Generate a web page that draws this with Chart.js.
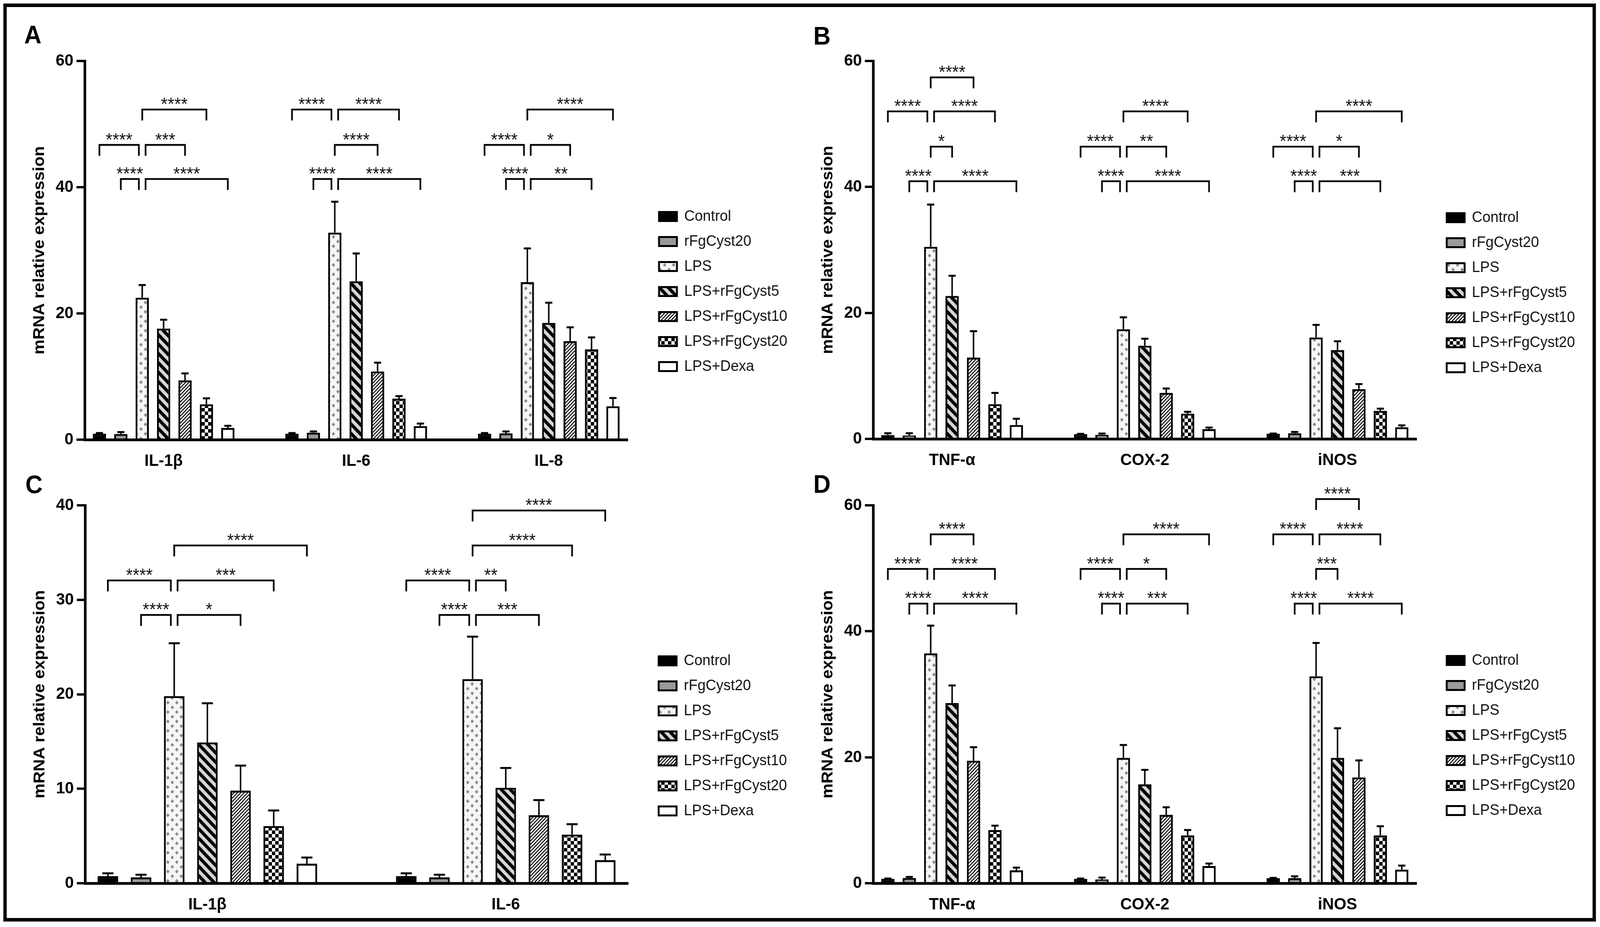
<!DOCTYPE html>
<html>
<head>
<meta charset="utf-8">
<script src="https://cdn.jsdelivr.net/npm/chart.js@4.4.1/dist/chart.umd.min.js"></script>
<style>
html, body { margin: 0; padding: 0; background: #fff; overflow: hidden; }
#page { width: 4290px; height: 2372px; position: absolute; left: 0; top: 0; transform-origin: 0 0; background: #fff; }
#frame { position: absolute; left: 9px; top: 9px; width: 4270px; height: 2349px; box-sizing: border-box; border: 9px solid #000; }
canvas { position: absolute; }
.tag { position: absolute; font: bold 64px/1 "Liberation Sans", Arial, sans-serif; color: #000; }
</style>
</head>
<body>
<div id="page">
<div id="frame"></div>
<canvas id="cA" width="2150" height="1230" style="left:0px;top:0px"></canvas>
<canvas id="cB" width="2140" height="1230" style="left:2150px;top:0px"></canvas>
<canvas id="cC" width="2150" height="1192" style="left:0px;top:1180px"></canvas>
<canvas id="cD" width="2140" height="1192" style="left:2150px;top:1180px"></canvas>
<div class="tag" style="left:65px;top:57px">A</div>
<div class="tag" style="left:2181px;top:60px">B</div>
<div class="tag" style="left:68px;top:1208px">C</div>
<div class="tag" style="left:2181px;top:1207px">D</div>
</div>
<script>
// --- 0. FIT PAGE TO WINDOW (window may be narrower than the 4290px figure) ---
const PAGE_W = 4290, PAGE_H = 2372;
document.getElementById('page').style.transform =
    'scale(' + Math.min(1, window.innerWidth / PAGE_W) + ',' + Math.min(1, window.innerHeight / PAGE_H) + ')';

// --- 1. DATA ---
const GROUPS = ['Control', 'rFgCyst20', 'LPS', 'LPS+rFgCyst5', 'LPS+rFgCyst10', 'LPS+rFgCyst20', 'LPS+Dexa'];
const Y_TITLE = 'mRNA relative expression';

// panel A
const A_GENES = ['IL-1β', 'IL-6', 'IL-8'];
const A_MEAN = [
    [0.95, 0.9, 22.5, 17.6, 9.4, 5.6, 1.85],
    [0.95, 1.1, 32.8, 25.1, 10.8, 6.5, 2.15],
    [0.95, 1.0, 24.95, 18.5, 15.6, 14.3, 5.3]
];
const A_SD = [
    [0.1, 0.3, 2.0, 1.4, 1.1, 0.95, 0.35],
    [0.1, 0.2, 4.9, 4.4, 1.4, 0.4, 0.4],
    [0.1, 0.3, 5.35, 3.2, 2.2, 1.9, 1.3]
];
// [gene, from group, to group, height, stars]
const A_SIG = [
    [0, 2, 5, 52.3, '****'], [0, 0, 2, 46.7, '****'], [0, 2, 4, 46.7, '***'], [0, 1, 2, 41.3, '****'], [0, 2, 6, 41.3, '****'],
    [1, 0, 2, 52.3, '****'], [1, 2, 5, 52.3, '****'], [1, 2, 4, 46.7, '****'], [1, 1, 2, 41.3, '****'], [1, 2, 6, 41.3, '****'],
    [2, 2, 6, 52.3, '****'], [2, 0, 2, 46.7, '****'], [2, 2, 4, 46.7, '*'], [2, 1, 2, 41.3, '****'], [2, 2, 5, 41.3, '**']
];

// panel B
const B_GENES = ['TNF-α', 'COX-2', 'iNOS'];
const B_MEAN = [
    [0.6, 0.55, 30.5, 22.7, 12.9, 5.5, 2.2],
    [0.75, 0.65, 17.4, 14.8, 7.3, 4.0, 1.55],
    [0.8, 0.9, 16.1, 14.1, 7.9, 4.45, 1.85]
];
const B_SD = [
    [0.3, 0.35, 6.7, 3.2, 4.2, 1.8, 1.0],
    [0.05, 0.2, 1.9, 1.1, 0.7, 0.3, 0.25],
    [0.05, 0.2, 2.0, 1.4, 0.8, 0.35, 0.3]
];
const B_SIG = [
    [0, 2, 4, 57.4, '****'], [0, 0, 2, 52.0, '****'], [0, 2, 5, 52.0, '****'], [0, 2, 3, 46.4, '*'], [0, 1, 2, 40.9, '****'], [0, 2, 6, 40.9, '****'],
    [1, 2, 5, 52.0, '****'], [1, 0, 2, 46.4, '****'], [1, 2, 4, 46.4, '**'], [1, 1, 2, 40.9, '****'], [1, 2, 6, 40.9, '****'],
    [2, 2, 6, 52.0, '****'], [2, 0, 2, 46.4, '****'], [2, 2, 4, 46.4, '*'], [2, 1, 2, 40.9, '****'], [2, 2, 5, 40.9, '***']
];

// panel C
const C_GENES = ['IL-1β', 'IL-6'];
const C_MEAN = [
    [0.75, 0.62, 19.8, 14.9, 9.8, 6.05, 2.07],
    [0.75, 0.62, 21.6, 10.1, 7.2, 5.15, 2.44]
];
const C_SD = [
    [0.3, 0.28, 5.6, 4.15, 2.65, 1.65, 0.65],
    [0.3, 0.28, 4.5, 2.1, 1.6, 1.1, 0.6]
];
const C_SIG = [
    [0, 2, 6, 35.75, '****'], [0, 0, 2, 32.05, '****'], [0, 2, 5, 32.05, '***'], [0, 1, 2, 28.4, '****'], [0, 2, 4, 28.4, '*'],
    [1, 2, 6, 39.45, '****'], [1, 2, 5, 35.75, '****'], [1, 0, 2, 32.05, '****'], [1, 2, 3, 32.05, '**'], [1, 1, 2, 28.4, '****'], [1, 2, 4, 28.4, '***']
];

// panel D
const D_GENES = ['TNF-α', 'COX-2', 'iNOS'];
const D_MEAN = [
    [0.7, 0.84, 36.5, 28.6, 19.45, 8.44, 2.05],
    [0.7, 0.6, 19.9, 15.7, 10.86, 7.6, 2.73],
    [0.8, 0.8, 32.85, 19.9, 16.8, 7.6, 2.15]
];
const D_SD = [
    [0.05, 0.16, 4.4, 2.8, 2.15, 0.7, 0.43],
    [0.05, 0.3, 2.05, 2.3, 1.2, 0.85, 0.4],
    [0.05, 0.3, 5.3, 4.7, 2.7, 1.45, 0.65]
];
const D_SIG = [
    [0, 2, 4, 55.4, '****'], [0, 0, 2, 49.9, '****'], [0, 2, 5, 49.9, '****'], [0, 1, 2, 44.4, '****'], [0, 2, 6, 44.4, '****'],
    [1, 2, 6, 55.4, '****'], [1, 0, 2, 49.9, '****'], [1, 2, 4, 49.9, '*'], [1, 1, 2, 44.4, '****'], [1, 2, 5, 44.4, '***'],
    [2, 2, 4, 61.0, '****'], [2, 0, 2, 55.4, '****'], [2, 2, 5, 55.4, '****'], [2, 2, 3, 49.9, '***'], [2, 1, 2, 44.4, '****'], [2, 2, 6, 44.4, '****']
];

// --- 2. LAYOUT (figure pixels) ---
const FONT = '"Liberation Sans", Arial, sans-serif';
const YW = 170, XH = 100;
const PANELS = [
    { id: 'cA', cx: 0,    cy: 0,    genes: A_GENES, mean: A_MEAN, sd: A_SD, sig: A_SIG, yMax: 60, step: 20, L: 227,  R: 1683, T: 156,  B: 1125, legX: 1767, legY: 554 },
    { id: 'cB', cx: 2150, cy: 0,    genes: B_GENES, mean: B_MEAN, sd: B_SD, sig: B_SIG, yMax: 60, step: 20, L: 2341, R: 3798, T: 156,  B: 1123, legX: 3879, legY: 557 },
    { id: 'cC', cx: 0,    cy: 1180, genes: C_GENES, mean: C_MEAN, sd: C_SD, sig: C_SIG, yMax: 40, step: 10, L: 228,  R: 1684, T: 1293, B: 2260, legX: 1766, legY: 1691 },
    { id: 'cD', cx: 2150, cy: 1180, genes: D_GENES, mean: D_MEAN, sd: D_SD, sig: D_SIG, yMax: 60, step: 20, L: 2341, R: 3798, T: 1293, B: 2260, legX: 3879, legY: 1690 }
];

// --- 3. PATTERNS ---
function tile(w, h, paint) {
    const c = document.createElement('canvas');
    c.width = w; c.height = h;
    const g = c.getContext('2d');
    paint(g, w, h);
    return g.createPattern(c, 'repeat');
}

const FILLS = [
    '#000000',
    '#9a9a9a',
    tile(24, 24, (g, w, h) => {
        g.fillStyle = '#f6f6f6'; g.fillRect(0, 0, w, h);
        g.fillStyle = '#8a8a8a';
        [[6, 6], [18, 18]].forEach(([x, y]) => {
            g.beginPath(); g.moveTo(x, y - 5); g.lineTo(x + 4.5, y); g.lineTo(x, y + 5); g.lineTo(x - 4.5, y); g.closePath(); g.fill();
        });
    }),
    tile(24, 24, (g, w, h) => {
        g.fillStyle = '#d6d6d6'; g.fillRect(0, 0, w, h);
        g.strokeStyle = '#000'; g.lineWidth = 8.5;
        [-24, 0, 24].forEach(x0 => { g.beginPath(); g.moveTo(x0 - 6, -6); g.lineTo(x0 + 30, 30); g.stroke(); });
    }),
    tile(9, 9, (g, w, h) => {
        g.fillStyle = '#fff'; g.fillRect(0, 0, w, h);
        g.strokeStyle = '#000'; g.lineWidth = 2.6;
        [-9, 0, 9].forEach(x0 => { g.beginPath(); g.moveTo(x0 - 2, 11); g.lineTo(x0 + 11, -2); g.stroke(); });
    }),
    tile(18, 18, (g, w, h) => {
        g.fillStyle = '#fff'; g.fillRect(0, 0, w, h);
        g.fillStyle = '#000'; g.fillRect(0, 0, 9, 9); g.fillRect(9, 9, 9, 9);
    }),
    '#ffffff'
];

// --- 4. PLUGINS ---
function legendPlacer(p) {
    return {
        id: 'legendPlacer',
        afterLayout(chart) {
            const lg = chart.legend;
            if (!lg) return;
            lg.left = p.legX - p.cx - 25;
            lg.top = p.legY - p.cy - 44.5;
            lg.width = 600; lg.height = 700;
            lg.right = lg.left + lg.width;
            lg.bottom = lg.top + lg.height;
        }
    };
}

const errorBars = {
    id: 'errorBars',
    afterDatasetsDraw(chart) {
        const ctx = chart.ctx, ys = chart.scales.y;
        ctx.save();
        ctx.strokeStyle = '#000';
        chart.data.datasets.forEach((ds, d) => {
            chart.getDatasetMeta(d).data.forEach((bar, i) => {
                const top = ys.getPixelForValue(ds.data[i].y + ds.sd[i]);
                const half = bar.width * 0.27;
                ctx.lineWidth = 4;
                ctx.beginPath(); ctx.moveTo(bar.x, bar.y); ctx.lineTo(bar.x, top); ctx.stroke();
                ctx.lineWidth = 5;
                ctx.beginPath(); ctx.moveTo(bar.x - half, top); ctx.lineTo(bar.x + half, top); ctx.stroke();
            });
        });
        ctx.restore();
    }
};

function brackets(p) {
    return {
        id: 'brackets',
        afterDraw(chart) {
            const ctx = chart.ctx, ys = chart.scales.y;
            ctx.save();
            ctx.strokeStyle = '#000'; ctx.lineWidth = 4.5; ctx.lineJoin = 'miter';
            ctx.fillStyle = '#111'; ctx.font = '46px ' + FONT;
            ctx.textAlign = 'center'; ctx.textBaseline = 'alphabetic';
            p.sig.forEach(([g, a, b, v, s]) => {
                let x1 = chart.getDatasetMeta(a).data[g].x;
                let x2 = chart.getDatasetMeta(b).data[g].x;
                // shorten where two brackets on one row meet at the same bar
                if (p.sig.some(o => o[0] === g && o[3] === v && o[2] === a)) x1 += 9;
                if (p.sig.some(o => o[0] === g && o[3] === v && o[1] === b)) x2 -= 9;
                const y = ys.getPixelForValue(v);
                ctx.beginPath();
                ctx.moveTo(x1, y + 28); ctx.lineTo(x1, y); ctx.lineTo(x2, y); ctx.lineTo(x2, y + 28);
                ctx.stroke();
                ctx.fillText(s, (x1 + x2) / 2, y + 2);
            });
            ctx.restore();
        }
    };
}

// --- 5. CHARTS ---
Chart.defaults.font.family = FONT;

function makeChart(p) {
    const cv = document.getElementById(p.id);
    const n = p.genes.length;
    const datasets = GROUPS.map((name, d) => ({
        label: name,
        data: p.genes.map((g, i) => ({ x: i, y: p.mean[i][d] })),
        sd: p.genes.map((g, i) => p.sd[i][d]),
        backgroundColor: FILLS[d],
        borderColor: '#000',
        borderWidth: 5,
        categoryPercentage: 0.778,
        barPercentage: 0.62
    }));
    const axisFont = { family: FONT, size: 43, weight: 'bold' };

    return new Chart(cv, {
        type: 'bar',
        data: { datasets: datasets },
        options: {
            responsive: false,
            animation: false,
            devicePixelRatio: 1,
            layout: {
                padding: {
                    left: p.L - p.cx - YW,
                    right: p.cx + cv.width - p.R,
                    top: p.T - p.cy,
                    bottom: p.cy + cv.height - p.B - XH
                }
            },
            scales: {
                x: {
                    type: 'linear', bounds: 'data', offset: false,
                    min: -0.41, max: n - 1 + 0.41,
                    afterBuildTicks: s => { s.ticks = p.genes.map((g, i) => ({ value: i })); },
                    afterFit: s => { s.height = XH; },
                    grid: { display: false, offset: false },
                    border: { display: true, color: '#000', width: 7 },
                    ticks: { callback: v => p.genes[v], font: axisFont, color: '#000', padding: 21, maxRotation: 0, autoSkip: false }
                },
                y: {
                    min: 0, max: p.yMax,
                    afterFit: s => { s.width = YW; },
                    ticks: { stepSize: p.step, font: axisFont, color: '#000', padding: 8 },
                    grid: { drawOnChartArea: false, drawTicks: true, tickLength: 22, color: '#000', lineWidth: 6 },
                    border: { display: true, color: '#000', width: 7 },
                    title: { display: true, text: Y_TITLE, color: '#000', font: { family: FONT, size: 43, weight: 'bold', lineHeight: 1 }, padding: { top: 27.5, bottom: 0 } }
                }
            },
            plugins: {
                legend: {
                    position: 'chartArea', align: 'start',
                    labels: { boxWidth: 48, boxHeight: 23, padding: 25, color: '#111', font: { family: FONT, size: 39 } }
                },
                tooltip: { enabled: false }
            }
        },
        plugins: [legendPlacer(p), errorBars, brackets(p)]
    });
}

PANELS.forEach(makeChart);
</script>
</body>
</html>
